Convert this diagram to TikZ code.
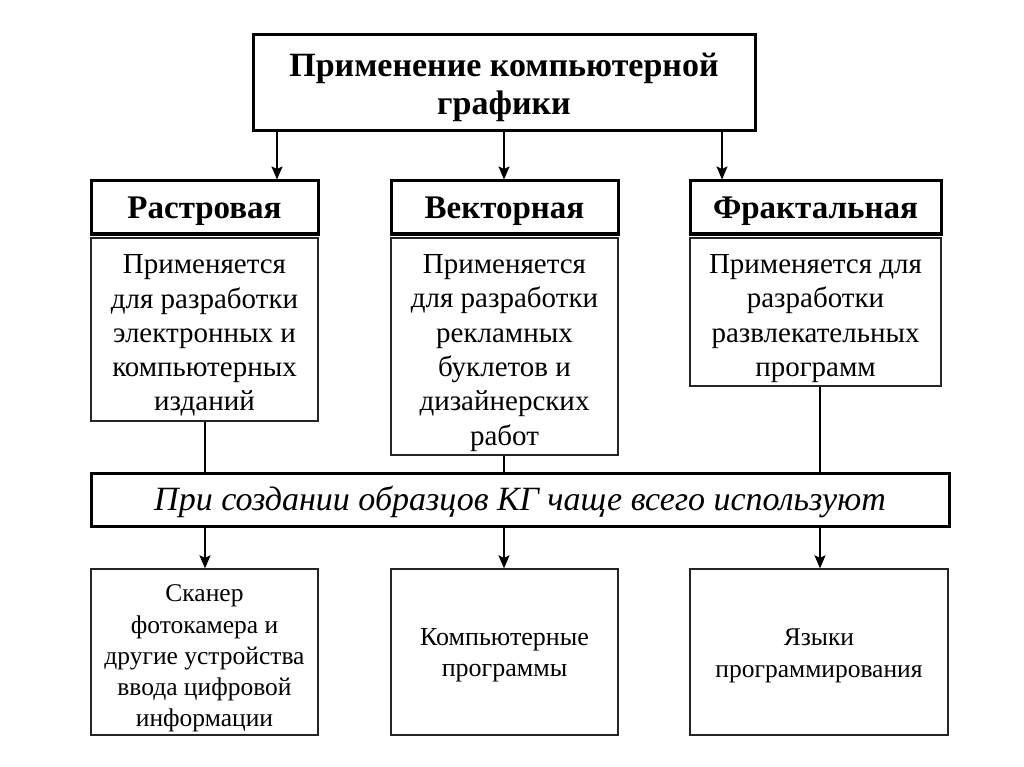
\documentclass[tikz,border=0pt]{standalone}
\usepackage{fontspec}
\setmainfont{Liberation Serif}
\usetikzlibrary{arrows.meta}
\newcommand{\mltext}[2]{\raisebox{-#1}[\height][\depth]{\begin{tabular}{@{}c@{}}#2\end{tabular}}}
\tikzset{
  thickbox/.style={draw=black, line width=3pt, inner sep=0pt, anchor=center},
  thinbox/.style={draw=black!85, line width=1.3pt, inner sep=0pt, anchor=center},
  arr/.style={line width=1.8pt, -{Stealth[length=13pt,width=11pt,inset=2.5pt]}},
  ln/.style={line width=1.8pt},
  titlefont/.style={font=\fontsize{34}{38}\selectfont\bfseries},
  headfont/.style={font=\fontsize{33}{36}\selectfont\bfseries},
  descfont/.style={font=\fontsize{29}{34.3}\selectfont},
  bandfont/.style={font=\fontsize{34}{38}\selectfont\itshape},
  botfont/.style={font=\fontsize{25.5}{31.2}\selectfont},
}
\begin{document}
\begin{tikzpicture}[x=1pt,y=-1pt]
\useasboundingbox[fill=white] (0,0) rectangle (1024,767);

\node[thickbox, titlefont, minimum width=502pt, minimum height=96pt] (title) at (504,83)
  {\mltext{5pt}{Применение компьютерной\\графики}};

\node[thickbox, headfont, minimum width=227pt, minimum height=53pt] (h1) at (204.5,207.5) {\mltext{4pt}{Растровая}};
\node[thickbox, headfont, minimum width=227pt, minimum height=53pt] (h2) at (504.5,207.5) {\mltext{4pt}{Векторная}};
\node[thickbox, headfont, minimum width=251pt, minimum height=53pt] (h3) at (815.5,207.5) {\mltext{4pt}{Фрактальная}};

\node[thinbox, descfont, minimum width=227pt, minimum height=183pt] (d1) at (204.5,329.5)
  {\mltext{6pt}{Применяется\\для разработки\\электронных и\\компьютерных\\изданий}};
\node[thinbox, descfont, minimum width=227pt, minimum height=217pt] (d2) at (504.5,346.5)
  {\mltext{6pt}{Применяется\\для разработки\\рекламных\\буклетов и\\дизайнерских\\работ}};
\node[thinbox, descfont, minimum width=251pt, minimum height=148pt] (d3) at (815.5,312)
  {\mltext{6pt}{Применяется для\\разработки\\развлекательных\\программ}};

\node[thickbox, bandfont, minimum width=858pt, minimum height=53pt] (band) at (520,499.5)
  {\mltext{3pt}{При создании образцов КГ чаще всего используют}};

\node[thinbox, botfont, minimum width=227pt, minimum height=166pt] (b1) at (204.5,652)
  {\mltext{6pt}{Сканер\\фотокамера и\\другие устройства\\ввода цифровой\\информации}};
\node[thinbox, font=\fontsize{26}{30.5}\selectfont, minimum width=227pt, minimum height=166pt] (b2) at (504.5,652)
  {\mltext{3pt}{Компьютерные\\программы}};
\node[thinbox, font=\fontsize{25.5}{31.5}\selectfont, minimum width=258pt, minimum height=166pt] (b3) at (819,652)
  {\mltext{3pt}{Языки\\программирования}};

\coordinate (a1) at (277,0);
\coordinate (a2) at (504,0);
\coordinate (a3) at (722,0);
\coordinate (l1) at (205,0);
\coordinate (l2) at (504,0);
\coordinate (l3) at (820,0);

\draw[arr] (title.south -| a1) -- (h1.north -| a1);
\draw[arr] (title.south -| a2) -- (h2.north -| a2);
\draw[arr] (title.south -| a3) -- (h3.north -| a3);

\draw[ln] (d1.south -| l1) -- (band.north -| l1);
\draw[ln] (d2.south -| l2) -- (band.north -| l2);
\draw[ln] (d3.south -| l3) -- (band.north -| l3);

\draw[arr] (band.south -| l1) -- (b1.north -| l1);
\draw[arr] (band.south -| l2) -- (b2.north -| l2);
\draw[arr] (band.south -| l3) -- (b3.north -| l3);
\end{tikzpicture}
\end{document}
